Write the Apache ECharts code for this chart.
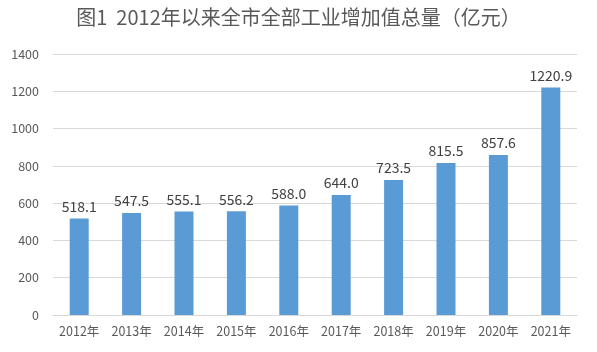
<!DOCTYPE html>
<html><head><meta charset="utf-8">
<script src="https://cdn.jsdelivr.net/npm/echarts@6/dist/echarts.min.js"></script>
<style>html,body{margin:0;padding:0;background:#fff}#c{width:597px;height:352px}</style>
</head><body><div id="c"></div>
<script>
const categories = ['2012年','2013年','2014年','2015年','2016年','2017年','2018年','2019年','2020年','2021年'];
const values = [518.1, 547.5, 555.1, 556.2, 588.0, 644.0, 723.5, 815.5, 857.6, 1220.9];
const titleText = '图1  2012年以来全市全部工业增加值总量（亿元）';
const font = '"Microsoft YaHei","Noto Sans CJK SC",sans-serif';
const chart = echarts.init(document.getElementById('c'));
chart.setOption({
  animation: false,
  title: {text: titleText, left: 'center', top: 2, textStyle: {fontFamily: font, fontSize: 20, fontWeight: 'normal', color: '#595959'}},
  grid: {left: 53, right: 20, top: 54, bottom: 37},
  xAxis: {type: 'category', data: categories,
    axisLine: {lineStyle: {color: '#d9d9d9'}}, axisTick: {show: false},
    axisLabel: {color: '#595959', fontSize: 12.5, fontFamily: font, margin: 10, interval: 0}},
  yAxis: {type: 'value', min: 0, max: 1400, interval: 200,
    axisLine: {show: false}, axisTick: {show: false},
    splitLine: {lineStyle: {color: '#d9d9d9'}},
    axisLabel: {color: '#595959', fontSize: 12.5, fontFamily: font, margin: 14, formatter: v => String(v)}},
  series: [{type: 'bar', data: values, barWidth: 19,
    itemStyle: {color: '#5b9bd5'},
    label: {show: true, position: 'top', color: '#404040', fontSize: 14, fontFamily: font,
      formatter: p => p.value.toFixed(1)}}]
});
</script></body></html>
